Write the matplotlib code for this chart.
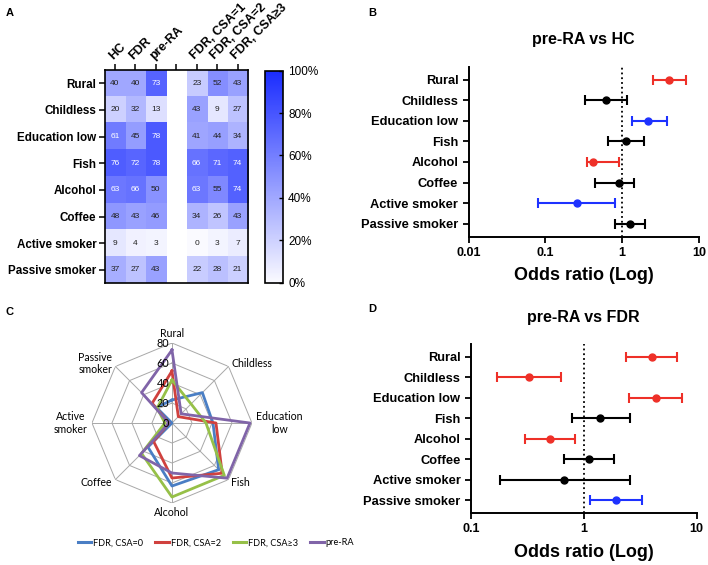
import numpy as np
import matplotlib.pyplot as plt
from matplotlib.colors import LinearSegmentedColormap
from matplotlib.lines import Line2D

plt.rcParams['font.family'] = ['Liberation Sans', 'DejaVu Sans']

factors = ['Rural', 'Childless', 'Education low', 'Fish', 'Alcohol', 'Coffee',
           'Active smoker', 'Passive smoker']

# panel A - percentages
groups = ['HC', 'FDR', 'pre-RA', '', 'FDR, CSA=1', 'FDR, CSA=2', 'FDR, CSA≥3']
hc = [40, 20, 61, 76, 63, 48, 9, 37]
fdr = [40, 32, 45, 72, 66, 43, 4, 27]
pre_ra = [73, 13, 78, 78, 50, 46, 3, 43]
csa1 = [23, 43, 41, 66, 63, 34, 0, 22]
csa2 = [52, 9, 44, 71, 55, 26, 3, 28]
csa3 = [43, 27, 34, 74, 74, 43, 7, 21]

# panel B - pre-RA vs HC
or_hc = [4.1, 0.62, 2.2, 1.13, 0.42, 0.9, 0.26, 1.27]
lo_hc = [2.56, 0.33, 1.34, 0.66, 0.35, 0.44, 0.079, 0.80]
hi_hc = [6.8, 1.16, 3.83, 1.94, 0.90, 1.43, 0.81, 2.01]
col_hc = ['red', 'black', 'blue', 'black', 'red', 'black', 'blue', 'black']

# panel D - pre-RA vs FDR
or_fdr = [4.0, 0.325, 4.35, 1.39, 0.50, 1.11, 0.67, 1.93]
lo_fdr = [2.39, 0.17, 2.51, 0.78, 0.30, 0.67, 0.18, 1.13]
hi_fdr = [6.75, 0.63, 7.38, 2.56, 0.84, 1.86, 2.56, 3.27]
col_fdr = ['red', 'red', 'red', 'black', 'red', 'black', 'black', 'blue']

# panel C - radar
radar_labels = ['Rural', 'Childless', 'Education\nlow', 'Fish', 'Alcohol', 'Coffee',
                'Active\nsmoker', 'Passive\nsmoker']
radar_series = ['FDR, CSA=0', 'FDR, CSA=2', 'FDR, CSA≥3', 'pre-RA']
radar_values = [csa1, csa2, csa3, pre_ra]
radar_colors = ['#4A7EC4', '#D0413E', '#96C048', '#8064A8']

palette = {'red': '#EE3028', 'blue': '#1E32FF', 'black': 'black'}
calibri_like = ['Lato', 'DejaVu Sans']

fig = plt.figure(figsize=(7.08, 5.65), dpi=100)

# ---------- A: heatmap ----------
ax = fig.add_axes([0.148, 0.499, 0.202, 0.377])
cmap = LinearSegmentedColormap.from_list('wb', ['#FAFAFF', '#1A2CFF'])
mat = np.array([hc, fdr, pre_ra, [np.nan] * 8, csa1, csa2, csa3], dtype=float).T
im = ax.imshow(mat, cmap=cmap, vmin=0, vmax=100, aspect='auto')
for i in range(mat.shape[0]):
    for j in range(mat.shape[1]):
        v = mat[i, j]
        if np.isnan(v):
            continue
        ax.text(j, i, '%d' % v, ha='center', va='center', fontsize=6,
                color='white' if v > 58 else '#222222')
ax.set_xticks(range(len(groups)))
ax.set_xticklabels(groups, rotation=45, ha='left', rotation_mode='anchor',
                   fontsize=9, fontweight='bold')
ax.xaxis.tick_top()
ax.set_yticks(range(len(factors)))
ax.set_yticklabels(factors, fontsize=8.4, fontweight='bold')
ax.tick_params(length=4, width=1.1, pad=2)
for s in ax.spines.values():
    s.set_linewidth(1.2)

cax = fig.add_axes([0.374, 0.5, 0.026, 0.375])
cb = fig.colorbar(im, cax=cax, ticks=[0, 20, 40, 60, 80, 100], format='%d%%')
cb.ax.tick_params(labelsize=8.5, direction='in', length=3, width=1)
cb.outline.set_linewidth(1.2)


# ---------- B / D: forest plots ----------
def forest(ax, title, est, lo, hi, cols, xlim, xticks):
    y = np.arange(len(factors))
    for i in range(len(factors)):
        c = palette[cols[i]]
        ax.errorbar(est[i], y[i], xerr=[[est[i] - lo[i]], [hi[i] - est[i]]],
                    fmt='o', color=c, ms=5, capsize=3.5, elinewidth=1.5,
                    capthick=1.5)
    ax.axvline(1, color='black', ls=':', lw=1.3)
    ax.set_xscale('log')
    ax.set_xlim(xlim)
    ax.set_ylim(len(factors) - 0.37, -0.63)
    ax.set_yticks(y)
    ax.set_yticklabels(factors, fontsize=9.3, fontweight='bold')
    ax.set_xticks(xticks)
    ax.set_xticklabels([('%g' % t) for t in xticks], fontsize=9, fontweight='bold')
    ax.minorticks_off()
    ax.tick_params(length=4, width=1.3)
    ax.spines['top'].set_visible(False)
    ax.spines['right'].set_visible(False)
    ax.spines['left'].set_linewidth(1.4)
    ax.spines['bottom'].set_linewidth(1.4)
    ax.set_title(title, fontsize=11.5, fontweight='bold', pad=16)
    ax.set_xlabel('Odds ratio (Log)', fontsize=13, fontweight='bold', labelpad=6)


axb = fig.add_axes([0.662, 0.581, 0.325, 0.301])
forest(axb, 'pre-RA vs HC', or_hc, lo_hc, hi_hc, col_hc, (0.01, 10), [0.01, 0.1, 1, 10])

axd = fig.add_axes([0.665, 0.092, 0.319, 0.299])
forest(axd, 'pre-RA vs FDR', or_fdr, lo_fdr, hi_fdr, col_fdr, (0.1, 10), [0.1, 1, 10])

# ---------- C: radar ----------
axc = fig.add_axes([0.1299, 0.1097, 0.226, 0.2832], projection='polar')
axc.set_theta_offset(np.pi / 2)
axc.set_theta_direction(-1)
ang = np.arange(len(radar_labels)) * 2 * np.pi / len(radar_labels)
ang_c = np.append(ang, ang[0])
for r in [20, 40, 60, 80]:
    axc.plot(ang_c, [r] * len(ang_c), color='#A8A8A8', lw=0.7, zorder=1)
for a in ang:
    axc.plot([a, a], [0, 80], color='#A8A8A8', lw=0.7, zorder=1)
handles = []
for vals, c, name in zip(radar_values, radar_colors, radar_series):
    v = np.append(vals, vals[0])
    axc.plot(ang_c, v, color=c, lw=2, zorder=3)
    handles.append(Line2D([], [], color=c, lw=2.2, label=name))
axc.set_ylim(0, 80)
axc.grid(False)
axc.set_xticks([])
axc.set_yticks([])
axc.spines['polar'].set_visible(False)
axc.patch.set_visible(False)
for r in [0, 20, 40, 60, 80]:
    axc.annotate(str(r), xy=(0, r), xytext=(-2, 0), textcoords='offset points',
                 ha='right', va='center', fontsize=7.8, family=calibri_like)
for a, lab in zip(ang, radar_labels):
    dx, dy = np.sin(a), np.cos(a)
    ha = 'left' if dx > 0.1 else ('right' if dx < -0.1 else 'center')
    va = 'bottom' if dy > 0.9 else ('top' if dy < -0.9 else 'center')
    axc.annotate(lab, xy=(a, 80), xytext=(3 * dx, 3 * dy), textcoords='offset points',
                 ha=ha, va=va, multialignment='center', fontsize=7.6,
                 family=calibri_like)
fig.legend(handles=handles, loc='center', bbox_to_anchor=(0.305, 0.039), ncol=4,
           frameon=False, handlelength=1.5, columnspacing=1.3,
           handletextpad=0.2, prop={'family': calibri_like, 'size': 6.6})

# panel letters
for lab, x, y in [('A', 0.008, 0.985), ('B', 0.52, 0.985), ('C', 0.008, 0.457), ('D', 0.52, 0.462)]:
    fig.text(x, y, lab, fontsize=8, fontweight='bold', va='top')

fig.savefig('out.png', dpi=100)
